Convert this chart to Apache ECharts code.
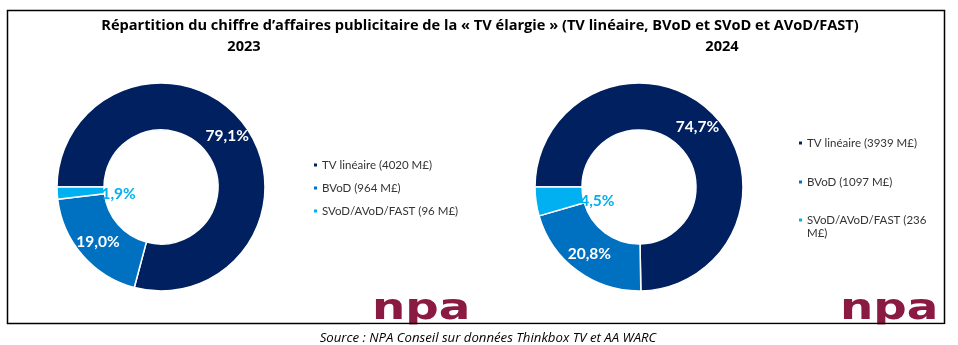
<!DOCTYPE html>
<html><head><meta charset="utf-8">
<script src="https://cdn.jsdelivr.net/npm/echarts@6/dist/echarts.min.js"></script>
<style>html,body{margin:0;padding:0;background:#fff}#c{width:958px;height:345px}</style>
</head><body><div id="c"></div>
<script>
const titleText = "Répartition du chiffre d’affaires publicitaire de la « TV élargie » (TV linéaire, BVoD et SVoD et AVoD/FAST)";
const years = ["2023", "2024"];
const categories = ["TV linéaire", "BVoD", "SVoD/AVoD/FAST"];
const values2023 = [4020, 964, 96];
const values2024 = [3939, 1097, 236];
const unit = "M£";
const sourceText = "Source : NPA Conseil sur données Thinkbox TV et AA WARC";
const colors = ["#002060", "#0070C0", "#00B0F0"];

const FONT = "Lato";
const TFONT = "Open Sans";
function names(vals){ return categories.map((c,i)=>c+" ("+vals[i]+" "+unit+")"); }
const n23 = names(values2023), n24 = names(values2024);
function pct(vals){ const t = vals.reduce((a,b)=>a+b,0); return vals.map(v=>(v/t*100).toFixed(1).replace('.',',')+'%'); }
const p23 = pct(values2023), p24 = pct(values2024);

function mkData(vals, nm, pc){
  return vals.map((v,i)=>({
    value:v, name:nm[i],
    itemStyle:{color:colors[i]},
    label:{formatter:pc[i], color: i===2 ? colors[2] : '#ffffff'}
  }));
}
function mkSeries(vals, nm, pc, cx){
  return {
    type:'pie', center:[cx,187], radius:[57,104], startAngle:180, clockwise:true,
    avoidLabelOverlap:false, silent:true, animation:false,
    itemStyle:{borderColor:'#ffffff', borderWidth:1.5},
    label:{show:true, position:'inside', fontFamily:FONT, fontWeight:'bold', fontSize:15.5},
    labelLine:{show:false},
    labelLayout:function(p){ return p.dataIndex===2 ? {dx:41, dy:2} : {}; },
    data:mkData(vals, nm, pc)
  };
}
const legText = {fontFamily:FONT, fontSize:11.5, color:'#333333', lineHeight:13, padding:[0,0,0,-1]};

const chart = echarts.init(document.getElementById('c'), null, {renderer:'canvas'});
chart.setOption({
  animation:false,
  title:[
    {text:titleText, left:475, top:21, textAlign:'center', textVerticalAlign:'middle',
     textStyle:{fontFamily:TFONT, fontWeight:'bold', fontSize:14.6, color:'#000'}},
    {text:years[0], left:239, top:42, textAlign:'center', textVerticalAlign:'middle',
     textStyle:{fontFamily:TFONT, fontWeight:'bold', fontSize:14.6, color:'#000'}},
    {text:years[1], left:717, top:42, textAlign:'center', textVerticalAlign:'middle',
     textStyle:{fontFamily:TFONT, fontWeight:'bold', fontSize:14.6, color:'#000'}},
    {text:sourceText, left:483, top:333, textAlign:'center', textVerticalAlign:'middle',
     textStyle:{fontFamily:TFONT, fontStyle:'italic', fontWeight:'normal', fontSize:13.2, color:'#000'}}
  ],
  legend:[
    {orient:'vertical', left:312, top:158.5, padding:0, icon:'rect', itemWidth:5, itemHeight:5, itemGap:10,
     selectedMode:false, data:n23, textStyle:legText},
    {orient:'vertical', left:797, top:136.5, padding:0, icon:'rect', itemWidth:5, itemHeight:5, itemGap:26,
     selectedMode:false, data:[n24[0], n24[1]], textStyle:legText},
    {orient:'vertical', left:797, top:212.5, padding:0, itemWidth:5, itemHeight:26,
     icon:'path://M0,0h0.05v0.05h-0.05Z M0,4h5v5h-5Z M4.95,25.95h0.05v0.05h-0.05Z',
     selectedMode:false, data:[n24[2]],
     textStyle:Object.assign({}, legText, {width:128, overflow:'break'})}
  ],
  graphic:[
    {type:'rect', shape:{x:7.5, y:10.5, width:937, height:313}, style:{fill:null, stroke:'#000', lineWidth:1.5}, z:-1},
    {type:'text', x:372, y:292, scaleX:1.3, style:{text:'npa', font:'900 36px "DejaVu Sans"', fill:'#8B1A42'}, z:-2},
    {type:'text', x:840, y:292, scaleX:1.3, style:{text:'npa', font:'900 36px "DejaVu Sans"', fill:'#8B1A42'}, z:-2},
    {type:'rect', shape:{x:360, y:324.5, width:600, height:20}, style:{fill:'#fff'}, z:-1}
  ],
  series:[ mkSeries(values2023, n23, p23, 161), mkSeries(values2024, n24, p24, 639) ]
});
</script></body></html>
